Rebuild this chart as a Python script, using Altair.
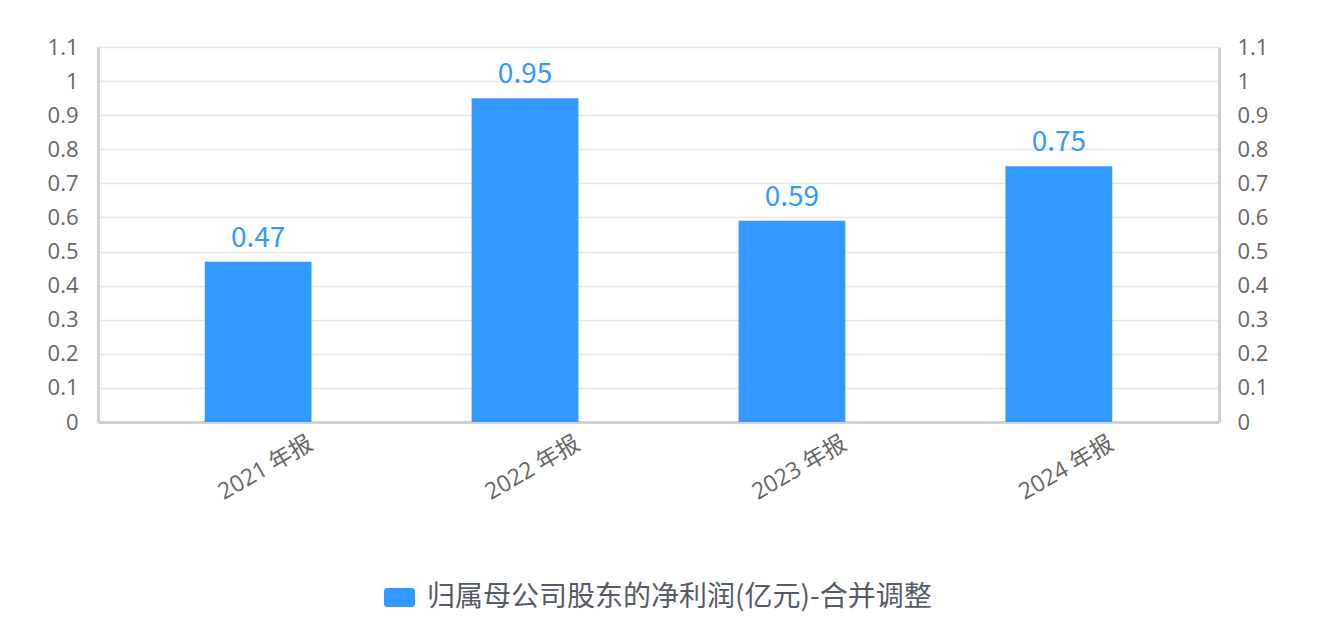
import altair as alt
import pandas as pd

categories = ["2021 年报", "2022 年报", "2023 年报", "2024 年报"]
values = [0.47, 0.95, 0.59, 0.75]
series_name = "归属母公司股东的净利润(亿元)-合并调整"
y_ticks = [0, 0.1, 0.2, 0.3, 0.4, 0.5, 0.6, 0.7, 0.8, 0.9, 1, 1.1]

df = pd.DataFrame({"cat": categories, "val": values, "series": [series_name] * len(categories)})

CJK = "Noto Sans CJK SC"
LATIN = "Open Sans, Noto Sans CJK SC"
BLUE = "#3399FF"
AXIS_GREY = "#d0d0d0"
LABEL_GREY = "#666666"

x_enc = alt.X(
    "cat:N",
    sort=categories,
    scale=alt.Scale(paddingInner=0.6, paddingOuter=0.4),
    axis=alt.Axis(
        title=None,
        labelAngle=-30,
        labelAlign="center",
        labelBaseline="top",
        labelPadding=36,
        labelOffset=2,
        labelFontSize=23,
        labelColor=LABEL_GREY,
        labelFont=LATIN,
        ticks=False,
        domainColor=AXIS_GREY,
        domainWidth=3,
        grid=False,
    ),
)

y_scale = alt.Scale(domain=[0, 1.1], nice=False, zero=True)

left_axis = alt.Axis(
    title=None,
    orient="left",
    values=y_ticks,
    format="~g",
    labelFontSize=22,
    labelColor=LABEL_GREY,
    labelFont=LATIN,
    labelPadding=20,
    ticks=False,
    domainColor=AXIS_GREY,
    domainWidth=3,
    grid=True,
    gridColor="#e8e8e8",
    gridWidth=1.5,
)

symbol_path = (
    "M-0.8,-0.613 H0.8 A0.2,0.2 0 0 1 1,-0.413 V0.413 A0.2,0.2 0 0 1 0.8,0.613 "
    "H-0.8 A0.2,0.2 0 0 1 -1,0.413 V-0.413 A0.2,0.2 0 0 1 -0.8,-0.613 Z"
)

bars = alt.Chart(df).mark_bar(color=BLUE).encode(
    x=x_enc,
    y=alt.Y("val:Q", scale=y_scale, axis=left_axis),
    color=alt.Color(
        "series:N",
        scale=alt.Scale(range=[BLUE]),
        legend=alt.Legend(
            title=None,
            orient="none",
            legendX=286,
            legendY=535,
            padding=0,
            symbolType=symbol_path,
            symbolSize=961,
            symbolStrokeWidth=0,
            symbolOpacity=1,
            labelFontSize=28,
            labelFont=CJK,
            labelColor="#555b66",
            labelLimit=900,
            labelOffset=12,
        ),
    ),
)

text = alt.Chart(df).mark_text(
    color=BLUE, fontSize=28, font=CJK, baseline="bottom", dy=-9
).encode(
    x=alt.X("cat:N", sort=categories),
    y=alt.Y("val:Q", scale=y_scale, axis=left_axis),
    text=alt.Text("val:Q", format=".2f"),
)

right = alt.Chart(df).mark_bar(opacity=0).encode(
    x=alt.X("cat:N", sort=categories),
    y=alt.Y(
        "val:Q",
        scale=y_scale,
        axis=alt.Axis(
            title=None,
            orient="right",
            values=y_ticks,
            format="~g",
            labelFontSize=22,
            labelColor=LABEL_GREY,
            labelFont=LATIN,
            labelPadding=18,
            ticks=False,
            domainColor=AXIS_GREY,
            domainWidth=3,
            grid=False,
        ),
    ),
)

chart = (
    alt.layer(alt.layer(bars, text), right)
    .resolve_scale(y="independent")
    .properties(
        width=1121,
        height=375,
        padding={"left": 90, "top": 39, "right": 90, "bottom": 200},
        autosize=alt.AutoSizeParams(type="none"),
    )
    .configure_view(stroke=None)
)

chart.save("out.html", embed_options={"renderer": "svg", "actions": False})
